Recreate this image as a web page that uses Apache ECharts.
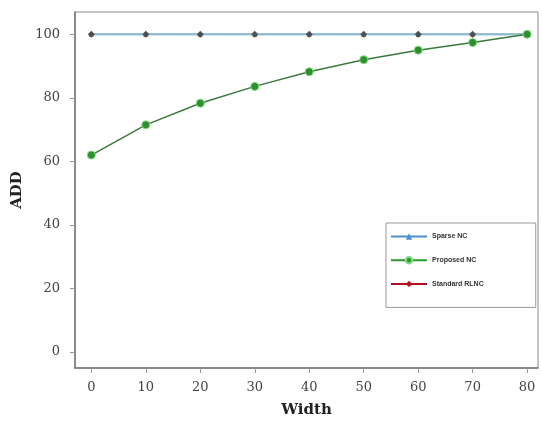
<!DOCTYPE html>
<html><head><meta charset="utf-8">
<script src="https://cdn.jsdelivr.net/npm/echarts@6/dist/echarts.min.js"></script>
<style>html,body{margin:0;padding:0;background:#fff}#c{width:542px;height:423px}</style>
</head><body><div id="c"></div>
<script>
const widths = [0, 10, 20, 30, 40, 50, 60, 70, 80];
const sparseNC = [100, 100, 100, 100, 100, 100, 100, 100, 100];
const proposedNC = [62, 71.5, 78.3, 83.6, 88.2, 92, 95, 97.4, 100];
const standardRLNC = [100, 100, 100, 100, 100, 100, 100, 100, 100];
const xTicks = [0, 10, 20, 30, 40, 50, 60, 70, 80];
const yTicks = [0, 20, 40, 60, 80, 100];

const pair = (xs, ys) => xs.map((x, i) => [x, ys[i]]);
const serif = 'DejaVu Serif';
const chart = echarts.init(document.getElementById('c'));
chart.setOption({
  animation: false,
  backgroundColor: '#fff',
  grid: { left: 75, right: 4, top: 12, bottom: 53, show: true, borderColor: '#888', borderWidth: 1 },
  xAxis: {
    type: 'value', min: -3, max: 82,
    name: 'Width', nameLocation: 'middle', nameGap: 35,
    nameTextStyle: { fontFamily: serif, fontWeight: 'bold', fontSize: 15, color: '#222' },
    axisLine: { show: true, onZero: false, lineStyle: { color: '#777', width: 1.5 } },
    axisTick: { show: true, customValues: xTicks, length: 5, lineStyle: { color: '#999' } },
    axisLabel: { customValues: xTicks, fontFamily: serif, fontSize: 13, color: '#444', margin: 13 },
    splitLine: { show: false }
  },
  yAxis: {
    type: 'value', min: -5, max: 107,
    name: 'ADD', nameLocation: 'middle', nameGap: 36,
    nameTextStyle: { fontFamily: serif, fontWeight: 'bold', fontSize: 15, color: '#222' },
    axisLine: { show: true, onZero: false, lineStyle: { color: '#777', width: 1.5 } },
    axisTick: { show: true, customValues: yTicks, length: 5, lineStyle: { color: '#999' } },
    axisLabel: { customValues: yTicks, fontFamily: serif, fontSize: 13, color: '#444', margin: 15 },
    splitLine: { show: false }
  },
  legend: {
    orient: 'vertical', left: 386, top: 223, width: 151, height: 83,
    padding: [10, 52, 20, 4], itemGap: 16,
    backgroundColor: '#fff', borderColor: '#999', borderWidth: 1, borderRadius: 0,
    itemWidth: 36, itemHeight: 8,
    textStyle: { fontFamily: 'Liberation Sans', fontWeight: 'bold', fontSize: 7, color: '#333' },
    data: [
      { name: 'Sparse NC', itemStyle: { color: '#4a8fd0' }, lineStyle: { color: '#4a8fd0', width: 2, opacity: 1 } },
      { name: 'Proposed NC', itemStyle: { color: '#2a9a2a' }, lineStyle: { color: '#2a9a2a', width: 2, opacity: 1 } },
      { name: 'Standard RLNC', itemStyle: { color: '#b01020' }, lineStyle: { color: '#b01020', width: 2, opacity: 1 } }
    ]
  },
  series: [
    { name: 'Sparse NC', type: 'line', data: pair(widths, sparseNC), z: 3,
      symbol: 'triangle', symbolSize: 5, color: '#4a8fd0',
      lineStyle: { width: 2.5, color: '#9ac6dc' }, itemStyle: { color: '#555' } },
    { name: 'Standard RLNC', type: 'line', data: pair(widths, standardRLNC), z: 4,
      symbol: 'diamond', symbolSize: 7, color: '#b01020',
      lineStyle: { width: 0.8, color: '#8aa0b0', opacity: 0.6 }, itemStyle: { color: '#505050' } },
    { name: 'Proposed NC', type: 'line', data: pair(widths, proposedNC), z: 5,
      symbol: 'circle', symbolSize: 8, color: '#2a9a2a',
      lineStyle: { width: 1.5, color: '#3a7a3a' }, itemStyle: { color: '#2d8f2d', borderColor: '#7fdc7f', borderWidth: 1 } }
  ]
});
</script></body></html>
